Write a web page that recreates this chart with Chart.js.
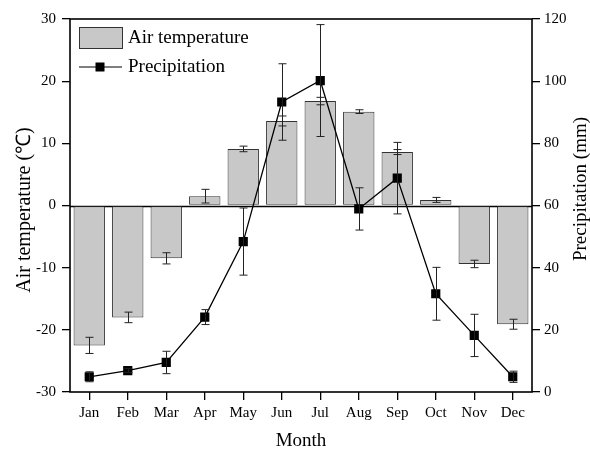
<!DOCTYPE html>
<html>
<head>
<meta charset="utf-8">
<script src="https://cdn.jsdelivr.net/npm/chart.js@4.4.1/dist/chart.umd.min.js"></script>
<style>
  html, body { margin: 0; padding: 0; background: #fff; }
</style>
</head>
<body>
<canvas id="chart" width="590" height="450"></canvas>
<script>
const months = ['Jan', 'Feb', 'Mar', 'Apr', 'May', 'Jun', 'Jul', 'Aug', 'Sep', 'Oct', 'Nov', 'Dec'];
const airTemp = [-22.5, -18.0, -8.5, 1.5, 9.1, 13.6, 16.8, 15.1, 8.6, 0.9, -9.4, -19.1];
const airTempErr = [1.3, 0.85, 0.9, 1.1, 0.45, 0.8, 0.6, 0.3, 0.4, 0.4, 0.6, 0.8];
const precip = [4.9, 6.9, 9.5, 24.1, 48.4, 93.3, 100.2, 58.9, 68.8, 31.6, 18.2, 4.9];
const precipErr = [1.6, 0.6, 3.6, 2.4, 10.8, 12.3, 18.0, 6.8, 11.5, 8.5, 6.8, 1.8];

const FONT = '"Liberation Serif", "Times New Roman", serif';
Chart.defaults.font.family = FONT;
Chart.defaults.color = '#000';

// error bars, drawn through the scales of each dataset
const errorBars = {
    id: 'errorBars',
    afterDatasetsDraw(chart) {
        const ctx = chart.ctx;
        chart.data.datasets.forEach((ds, di) => {
            const meta = chart.getDatasetMeta(di);
            const scale = chart.scales[ds.yAxisID];
            ctx.save();
            ctx.strokeStyle = '#222';
            ctx.lineWidth = 1;
            meta.data.forEach((el, i) => {
                const v = ds.data[i], e = ds.errors[i];
                const x = Math.round(el.x) + 0.5;
                const yTop = scale.getPixelForValue(v + e);
                const yBot = scale.getPixelForValue(v - e);
                ctx.beginPath();
                ctx.moveTo(x, yTop); ctx.lineTo(x, yBot);
                ctx.moveTo(x - 4, yTop); ctx.lineTo(x + 4, yTop);
                ctx.moveTo(x - 4, yBot); ctx.lineTo(x + 4, yBot);
                ctx.stroke();
            });
            ctx.restore();
        });
    }
};

// frame, zero line, legend and axis titles
const frame = {
    id: 'frame',
    beforeDatasetsDraw(chart) {
        const { ctx, chartArea: a, scales } = chart;
        const y0 = Math.round(scales.y.getPixelForValue(0)) + 0.5;
        ctx.save();
        ctx.strokeStyle = '#000';
        ctx.lineWidth = 1.5;
        ctx.beginPath();
        ctx.moveTo(a.left, y0); ctx.lineTo(a.right, y0);
        ctx.stroke();
        ctx.restore();
    },
    afterDraw(chart) {
        const { ctx, chartArea: a } = chart;
        ctx.save();
        ctx.strokeStyle = '#000';
        ctx.lineWidth = 1.6;
        ctx.strokeRect(a.left, a.top, a.right - a.left, a.bottom - a.top);

        // legend
        ctx.fillStyle = '#c8c8c8';
        ctx.strokeStyle = '#333';
        ctx.lineWidth = 1;
        ctx.fillRect(79.5, 27.5, 43, 21);
        ctx.strokeRect(79.5, 27.5, 43, 21);
        ctx.strokeStyle = '#000';
        ctx.beginPath();
        ctx.moveTo(79, 67); ctx.lineTo(122, 67);
        ctx.stroke();
        ctx.fillStyle = '#000';
        ctx.fillRect(95.5, 62.5, 9, 9);
        ctx.font = '19px ' + FONT;
        ctx.textBaseline = 'middle';
        ctx.fillText('Air temperature', 128, 38);
        ctx.fillText('Precipitation', 128, 67);

        // axis titles
        ctx.textAlign = 'center';
        ctx.fillText('Month', 301, 441);
        ctx.save();
        ctx.translate(25, 210);
        ctx.rotate(-Math.PI / 2);
        ctx.font = '20px ' + FONT;
        ctx.fillText('Air temperature (℃)', 0, 0);
        ctx.restore();
        ctx.save();
        ctx.translate(581, 189);
        ctx.rotate(-Math.PI / 2);
        ctx.fillText('Precipitation (mm)', 0, 0);
        ctx.restore();
        ctx.restore();
    }
};

new Chart(document.getElementById('chart'), {
    data: {
        labels: months,
        datasets: [
            {
                type: 'line',
                label: 'Precipitation',
                data: precip,
                errors: precipErr,
                yAxisID: 'y1',
                borderColor: '#000',
                borderWidth: 1.3,
                backgroundColor: '#000',
                pointStyle: 'rect',
                pointRadius: 6.5,
                pointBackgroundColor: '#000',
                pointBorderWidth: 0,
                tension: 0,
                order: 1
            },
            {
                type: 'bar',
                label: 'Air temperature',
                data: airTemp,
                errors: airTempErr,
                yAxisID: 'y',
                backgroundColor: '#c8c8c8',
                borderColor: '#333',
                borderWidth: 1,
                borderSkipped: false,
                barPercentage: 0.815,
                categoryPercentage: 1,
                order: 2
            }
        ]
    },
    options: {
        responsive: false,
        animation: false,
        layout: { padding: { top: 19, left: 0, right: 0, bottom: 0 } },
        plugins: {
            legend: { display: false },
            tooltip: { enabled: false }
        },
        scales: {
            x: {
                offset: true,
                grid: { offset: false, drawOnChartArea: false, tickLength: 8, color: '#000', lineWidth: 1.3 },
                border: { display: false },
                ticks: { font: { size: 15 }, padding: 4, maxRotation: 0 },
                afterFit(s) { s.height = 58; }
            },
            y: {
                position: 'left',
                min: -30, max: 30,
                ticks: { stepSize: 10, font: { size: 15 }, padding: 6 },
                grid: { drawOnChartArea: false, tickLength: 8, color: '#000', lineWidth: 1.3 },
                border: { display: false },
                afterFit(s) { s.width = 70; }
            },
            y1: {
                position: 'right',
                min: 0, max: 120,
                ticks: { stepSize: 20, font: { size: 15 }, padding: 4 },
                grid: { drawOnChartArea: false, tickLength: 8, color: '#000', lineWidth: 1.3 },
                border: { display: false },
                afterFit(s) { s.width = 58; }
            }
        }
    },
    plugins: [frame, errorBars]
});
</script>
</body>
</html>
